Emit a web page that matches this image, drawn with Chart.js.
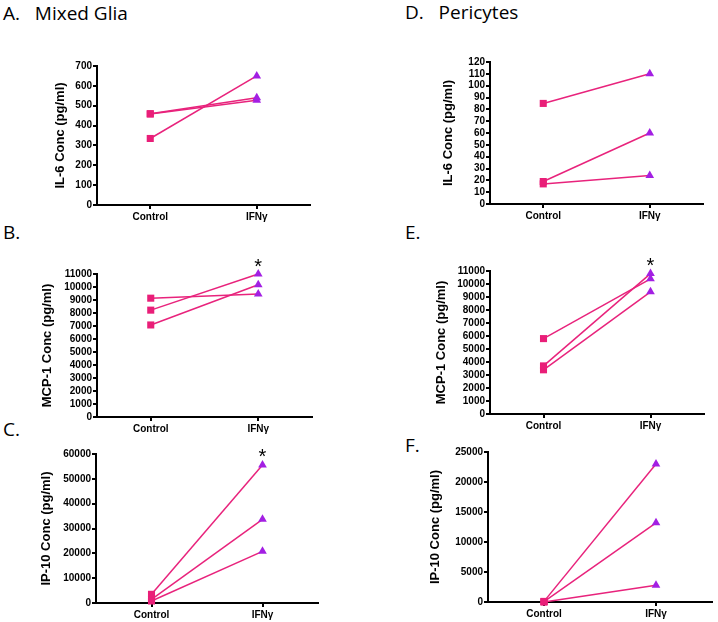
<!DOCTYPE html>
<html>
<head>
<meta charset="utf-8">
<script src="https://cdn.jsdelivr.net/npm/chart.js@4"></script>
<style>
  body { margin: 0; background: #fff; }
  #page { position: relative; width: 718px; height: 622px; overflow: hidden; }
  canvas { position: absolute; }
  .panel-label {
    position: absolute;
    font-family: "Open Sans", "Noto Sans", sans-serif;
    font-size: 19px;
    color: #000;
    white-space: pre;
    line-height: 22px;
  }
</style>
</head>
<body>
<div id="page"></div>
<script>
// Categories shared by all panels
const categories = ["Control", "IFNγ"];

// A. Mixed Glia - IL-6
const gliaIl6Control = [460, 458, 335];
const gliaIl6Ifn = [540, 528, 650];
// B. Mixed Glia - MCP-1
const gliaMcp1Control = [9140, 8220, 7080];
const gliaMcp1Ifn = [9470, 11000, 10170];
// C. Mixed Glia - IP-10
const gliaIp10Control = [3500, 1500, 800];
const gliaIp10Ifn = [55600, 33700, 20800];
// D. Pericytes - IL-6
const periIl6Control = [85, 19, 17];
const periIl6Ifn = [110, 60, 24];
// E. Pericytes - MCP-1
const periMcp1Control = [5800, 3700, 3400];
const periMcp1Ifn = [10400, 10800, 9400];
// F. Pericytes - IP-10
const periIp10Control = [100, 50, 0];
const periIp10Ifn = [23000, 13200, 2800];

const panels = [
  { id: "A", label: "A.   Mixed Glia", labelX: 3, labelY: 2, yTitle: "IL-6 Conc (pg/ml)",
    control: gliaIl6Control, ifn: gliaIl6Ifn, max: 700, step: 100, star: false,
    area: [97, 66, 310, 205], titleX: 65 },
  { id: "B", label: "B.", labelX: 3, labelY: 221, yTitle: "MCP-1 Conc (pg/ml)",
    control: gliaMcp1Control, ifn: gliaMcp1Ifn, max: 11000, step: 1000, star: true,
    area: [97, 274, 312, 417], titleX: 52 },
  { id: "C", label: "C.", labelX: 3, labelY: 418, yTitle: "IP-10 Conc (pg/ml)",
    control: gliaIp10Control, ifn: gliaIp10Ifn, max: 60000, step: 10000, star: true,
    area: [96, 454, 318, 603], titleX: 51 },
  { id: "D", label: "D.   Pericytes", labelX: 405, labelY: 1, yTitle: "IL-6 Conc (pg/ml)",
    control: periIl6Control, ifn: periIl6Ifn, max: 120, step: 10, star: false,
    area: [490, 62, 703, 204], titleX: 453 },
  { id: "E", label: "E.", labelX: 405, labelY: 221, yTitle: "MCP-1 Conc (pg/ml)",
    control: periMcp1Control, ifn: periMcp1Ifn, max: 11000, step: 1000, star: true,
    area: [490, 271, 704, 414], titleX: 446 },
  { id: "F", label: "F.", labelX: 405, labelY: 434, yTitle: "IP-10 Conc (pg/ml)",
    control: periIp10Control, ifn: periIp10Ifn, max: 25000, step: 5000, star: false,
    area: [488, 452, 712, 602], titleX: 440 },
];

const lineColor = "#e8237c";
const squareColor = "#e91e78";
const triangleColor = "#a31fe3";

// draws the significance star above the highest IFNγ point
const starPlugin = {
  id: "star",
  afterDatasetsDraw(chart, args, opts) {
    if (!opts.show) return;
    let best = null;
    chart.data.datasets.forEach((ds, i) => {
      const pt = chart.getDatasetMeta(i).data[1];
      if (!best || pt.y < best.y) best = pt;
    });
    const ctx = chart.ctx;
    ctx.save();
    ctx.fillStyle = "#000";
    ctx.font = "20px 'Liberation Sans', Arial, sans-serif";
    ctx.textAlign = "center";
    ctx.textBaseline = "middle";
    ctx.fillText("*", best.x, best.y - 7);
    ctx.restore();
  },
};

const page = document.getElementById("page");

panels.forEach((p) => {
  const [aL, aT, aR, aB] = p.area;
  const padTop = 24;
  const canvasLeft = p.titleX - 12;
  const canvasTop = aT - padTop;
  const padRight = 6;
  const xAxisHeight = 24;
  const width = aR + padRight - canvasLeft;
  const height = aB + xAxisHeight - canvasTop;
  const yWidth = aL - canvasLeft;

  const lbl = document.createElement("div");
  lbl.className = "panel-label";
  lbl.style.left = p.labelX + "px";
  lbl.style.top = p.labelY + "px";
  lbl.textContent = p.label;
  page.appendChild(lbl);

  const canvas = document.createElement("canvas");
  canvas.width = width;
  canvas.height = height;
  canvas.style.left = canvasLeft + "px";
  canvas.style.top = canvasTop + "px";
  canvas.style.width = width + "px";
  canvas.style.height = height + "px";
  page.appendChild(canvas);

  const datasets = p.control.map((c, i) => ({
    data: [c, p.ifn[i]],
    borderColor: lineColor,
    borderWidth: 1.5,
    clip: false,
    pointStyle: ["rect", "triangle"],
    pointRadius: 5,
    pointBorderWidth: 0,
    pointBackgroundColor: [squareColor, triangleColor],
    pointBorderColor: [squareColor, triangleColor],
  }));

  new Chart(canvas.getContext("2d"), {
    type: "line",
    data: { labels: categories, datasets: datasets },
    plugins: [starPlugin],
    options: {
      responsive: false,
      animation: false,
      layout: { padding: { top: padTop, right: padRight, left: 0, bottom: 0 } },
      plugins: {
        legend: { display: false },
        tooltip: { enabled: false },
        star: { show: p.star },
      },
      scales: {
        x: {
          offset: true,
          border: { color: "#000", width: 2 },
          grid: { offset: false, drawOnChartArea: false, color: "#000", lineWidth: 2, tickLength: 4 },
          ticks: {
            color: "#000",
            padding: 2,
            font: { family: "'Liberation Sans', Arial, sans-serif", size: 10, weight: "bold" },
          },
          afterFit(scale) { scale.height = xAxisHeight; },
        },
        y: {
          min: 0,
          max: p.max,
          border: { color: "#000", width: 2 },
          grid: { drawOnChartArea: false, color: "#000", lineWidth: 2, tickLength: 4 },
          ticks: {
            stepSize: p.step,
            autoSkip: false,
            color: "#000",
            padding: 1,
            font: { family: "'Liberation Sans', Arial, sans-serif", size: 10, weight: "bold" },
            callback: (v) => String(v),
          },
          title: {
            display: true,
            text: p.yTitle,
            color: "#000",
            padding: 0,
            font: { family: "'Liberation Sans', Arial, sans-serif", size: 13, weight: "bold" },
          },
          afterFit(scale) { scale.width = yWidth; },
        },
      },
    },
  });
});
</script>
</body>
</html>
